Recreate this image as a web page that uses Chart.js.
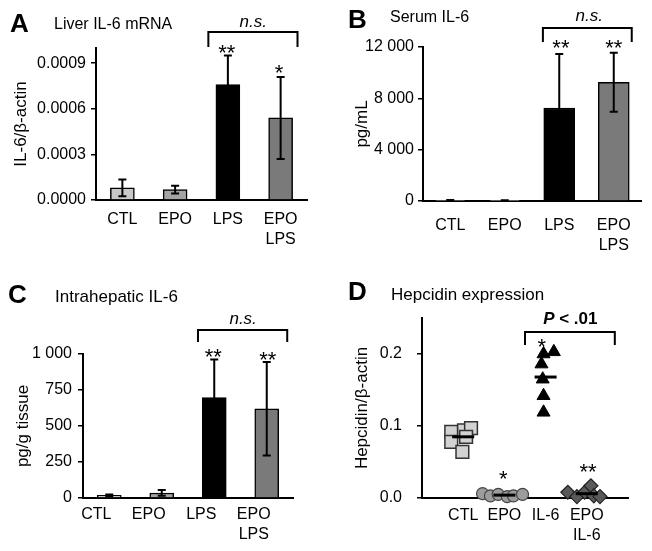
<!DOCTYPE html>
<html>
<head>
<meta charset="utf-8">
<script src="https://cdn.jsdelivr.net/npm/chart.js@4.4.0/dist/chart.umd.min.js"></script>
<style>
  body { margin: 0; background: #fff; }
  canvas { position: absolute; }
</style>
</head>
<body>
<canvas id="chartA" width="326" height="275" style="left:0;top:0"></canvas>
<canvas id="chartB" width="326" height="275" style="left:326px;top:0"></canvas>
<canvas id="chartC" width="326" height="276" style="left:0;top:275px"></canvas>
<canvas id="chartD" width="326" height="276" style="left:326px;top:275px"></canvas>
<script>
const FONT = "'Liberation Sans', Arial, sans-serif";
Chart.defaults.font.family = FONT;
Chart.defaults.color = '#000';

// bar panels A, B, C
const barLabels = ['CTL', 'EPO', 'LPS', ['EPO', 'LPS']];
const barColors = ['#c8c8c8', '#a4a4a4', '#000000', '#7a7a7a'];

const mrnaMeans = [0.00008, 0.000068, 0.00076, 0.00054];
const mrnaErrors = [0.000055, 0.000026, 0.00019, 0.00027];
const mrnaTicks = [0, 0.0003, 0.0006, 0.0009];

const serumMeans = [40, 30, 7250, 9250];
const serumErrors = [40, 30, 4200, 2300];
const serumTicks = [0, 4000, 8000, 12000];

const hepaticMeans = [18, 35, 697, 620];
const hepaticErrors = [6, 20, 265, 325];
const hepaticTicks = [0, 250, 500, 750, 1000];

// scatter panel D (x offset from group centre, value)
const hepcLabels = ['CTL', 'EPO', 'IL-6', ['EPO', 'IL-6']];
const ctlOffsets = [-0.29, 0.02, 0.19, -0.29, 0.07, -0.02];
const ctlValues = [0.092, 0.094, 0.097, 0.078, 0.085, 0.064];
const epoOffsets = [-0.53, -0.34, -0.15, 0.07, 0.22, 0.44];
const epoValues = [0.006, 0.003, 0.005, 0.002, 0.003, 0.005];
const il6Offsets = [-0.05, 0.2, -0.1, -0.07, -0.05, -0.05];
const il6Values = [0.2, 0.203, 0.186, 0.165, 0.142, 0.119];
const epoIl6Offsets = [-0.46, -0.24, -0.05, 0.1, 0.17, 0.32];
const epoIl6Values = [0.008, 0.002, 0.008, 0.017, 0.003, 0.002];
const hepcMeans = [0.085, 0.004, 0.168, 0.006];
const hepcTicks = [0, 0.1, 0.2];

const withSpaces = (v) => String(v).replace(/\B(?=(\d{3})+(?!\d))/g, ' ');

// error bars, panel letters, titles, stars and brackets
const panelDecor = {
  id: 'panelDecor',
  afterDatasetsDraw(chart, args, opts) {
    if (!opts.errors) return;
    const ctx = chart.ctx;
    const ys = chart.scales.y;
    const values = chart.data.datasets[0].data;
    ctx.save();
    ctx.strokeStyle = '#000';
    ctx.lineWidth = 2;
    chart.getDatasetMeta(0).data.forEach((bar, i) => {
      const yTop = ys.getPixelForValue(values[i] + opts.errors[i]);
      const yBot = ys.getPixelForValue(Math.max(values[i] - opts.errors[i], 0));
      ctx.beginPath();
      ctx.moveTo(bar.x, yTop); ctx.lineTo(bar.x, yBot);
      ctx.moveTo(bar.x - 4, yTop); ctx.lineTo(bar.x + 4, yTop);
      ctx.moveTo(bar.x - 4, yBot); ctx.lineTo(bar.x + 4, yBot);
      ctx.stroke();
    });
    ctx.restore();
  },
  afterDraw(chart, args, opts) {
    const ctx = chart.ctx;
    const xs = chart.scales.x, ys = chart.scales.y;
    ctx.save();
    ctx.fillStyle = '#000';
    ctx.strokeStyle = '#000';
    ctx.textBaseline = 'alphabetic';

    ctx.textAlign = 'left';
    ctx.font = `bold 26px ${FONT}`;
    ctx.fillText(opts.letter, opts.letterPos[0], opts.letterPos[1]);
    ctx.font = `${opts.titleSize}px ${FONT}`;
    ctx.fillText(opts.title, opts.titlePos[0], opts.titlePos[1]);

    // significance stars (centre given in data units)
    ctx.textAlign = 'center';
    ctx.font = `22px ${FONT}`;
    (opts.stars || []).forEach((s) => {
      ctx.fillText(s.text, xs.getPixelForValue(s.x), ys.getPixelForValue(s.y) + 12);
    });

    const b = opts.bracket;
    if (b) {
      const x1 = xs.getPixelForValue(b.x1), x2 = xs.getPixelForValue(b.x2);
      const yTop = ys.getPixelForValue(b.yTop), yEnd = ys.getPixelForValue(b.yEnd);
      ctx.lineWidth = 2;
      ctx.beginPath();
      ctx.moveTo(x1, yEnd); ctx.lineTo(x1, yTop); ctx.lineTo(x2, yTop); ctx.lineTo(x2, yEnd);
      ctx.stroke();
      // label made of parts with their own fonts
      let total = 0;
      b.parts.forEach((p) => { ctx.font = p.font; total += ctx.measureText(p.text).width; });
      let x = xs.getPixelForValue(b.labelX) - total / 2;
      const y = ys.getPixelForValue(b.labelY) + 6;
      ctx.textAlign = 'left';
      b.parts.forEach((p) => {
        ctx.font = p.font;
        ctx.fillText(p.text, x, y);
        x += ctx.measureText(p.text).width;
      });
    }
    ctx.restore();
  }
};

const yGrid = { display: true, drawOnChartArea: false, drawTicks: true, tickLength: 5, color: '#000', lineWidth: 1.5 };
const axisBorder = { color: '#000', width: 2 };

function barChart(id, means, errors, ticks, cfg) {
  return new Chart(document.getElementById(id), {
    type: 'bar',
    data: {
      labels: barLabels,
      datasets: [{
        data: means,
        backgroundColor: barColors,
        borderColor: '#000',
        borderWidth: 1.5,
        borderSkipped: 'bottom',
        barThickness: cfg.barWidth,
      }],
    },
    options: {
      responsive: false,
      animation: false,
      events: [],
      layout: { padding: { top: cfg.top, right: cfg.right, left: 0, bottom: 0 } },
      plugins: {
        legend: { display: false },
        tooltip: { enabled: false },
        panelDecor: Object.assign({ errors: errors }, cfg.decor),
      },
      scales: {
        x: {
          grid: { display: false, drawTicks: false },
          border: axisBorder,
          ticks: { font: { size: 16, lineHeight: 1.25 }, padding: cfg.xPad, labelOffset: cfg.labelOffset || 0, maxRotation: 0, autoSkip: false },
          afterFit: (s) => { s.height = cfg.xHeight; },
        },
        y: {
          min: 0,
          max: cfg.max,
          afterBuildTicks: (s) => { s.ticks = ticks.map((v) => ({ value: v })); },
          ticks: { font: { size: 16 }, padding: cfg.yPad, callback: cfg.fmt },
          grid: yGrid,
          border: axisBorder,
          title: { display: true, text: cfg.yTitle, font: { size: 17 }, padding: { top: cfg.titlePad, bottom: 0 } },
          afterFit: (s) => { s.width = cfg.yWidth; },
        },
      },
    },
    plugins: [panelDecor],
  });
}

const nsLabel = [{ text: 'n.s.', font: `italic 17px ${FONT}` }];

barChart('chartA', mrnaMeans, mrnaErrors, mrnaTicks, {
  top: 48, right: 19, xHeight: 75, yWidth: 96, max: 0.001, barWidth: 24,
  xPad: 10, yPad: 5, titlePad: 11, yTitle: 'IL-6/β-actin',
  fmt: (v) => v.toFixed(4),
  decor: {
    letter: 'A', letterPos: [10, 32], title: 'Liver IL-6 mRNA', titlePos: [54, 29], titleSize: 16,
    stars: [{ text: '**', x: 1.98, y: 0.001 }, { text: '*', x: 2.97, y: 0.000868 }],
    bracket: { x1: 1.63, x2: 3.32, yTop: 0.001105, yEnd: 0.001007, labelX: 2.48, labelY: 0.001178, parts: nsLabel },
  },
});

barChart('chartB', serumMeans, serumErrors, serumTicks, {
  top: 47, right: 11, xHeight: 74, yWidth: 97, max: 12000, barWidth: 31,
  xPad: 15, yPad: 4, titlePad: 26, yTitle: 'pg/mL',
  fmt: withSpaces,
  decor: {
    letter: 'B', letterPos: [22, 28], title: 'Serum IL-6', titlePos: [64, 22], titleSize: 16,
    stars: [{ text: '**', x: 2.03, y: 12310 }, { text: '**', x: 3.0, y: 12310 }],
    bracket: { x1: 1.7, x2: 3.33, yTop: 13480, yEnd: 12390, labelX: 2.55, labelY: 14490, parts: nsLabel },
  },
});

barChart('chartC', hepaticMeans, hepaticErrors, hepaticTicks, {
  top: 79, right: 33, xHeight: 53, yWidth: 83, max: 1000, barWidth: 24,
  xPad: 7, yPad: 6, titlePad: 13, yTitle: 'pg/g tissue', labelOffset: -13,
  fmt: withSpaces,
  decor: {
    letter: 'C', letterPos: [8, 28], title: 'Intrahepatic IL-6', titlePos: [55, 27], titleSize: 17,
    stars: [{ text: '**', x: 1.98, y: 1014 }, { text: '**', x: 3.02, y: 993 }],
    bracket: { x1: 1.69, x2: 3.39, yTop: 1167, yEnd: 1083, labelX: 2.55, labelY: 1250, parts: nsLabel },
  },
});

function groupPoints(group, offsets, values) {
  return values.map((v, i) => ({ x: group + offsets[i], y: v }));
}

new Chart(document.getElementById('chartD'), {
  type: 'scatter',
  data: {
    datasets: [
      { data: hepcMeans.map((v, i) => ({ x: i + 1, y: v })), pointStyle: 'line', pointRadius: 11, borderColor: '#000', pointBorderWidth: 3, order: 0, clip: false },
      { data: groupPoints(1, ctlOffsets, ctlValues), pointStyle: 'rect', pointRadius: 9, backgroundColor: '#d2d2d2', borderColor: '#333', pointBorderWidth: 1.5, order: 1, clip: false },
      { data: groupPoints(2, epoOffsets, epoValues), pointStyle: 'circle', pointRadius: 6, backgroundColor: '#9c9c9c', borderColor: '#444', pointBorderWidth: 1.2, order: 1, clip: false },
      { data: groupPoints(3, il6Offsets, il6Values), pointStyle: 'triangle', pointRadius: 7.5, backgroundColor: '#000', borderColor: '#000', pointBorderWidth: 1, order: 1, clip: false },
      { data: groupPoints(4, epoIl6Offsets, epoIl6Values), pointStyle: 'rectRot', pointRadius: 7, backgroundColor: '#5a5a5a', borderColor: '#222', pointBorderWidth: 1.2, order: 1, clip: false },
    ],
  },
  options: {
    responsive: false,
    animation: false,
    events: [],
    layout: { padding: { top: 43, right: 24, left: 0, bottom: 0 } },
    plugins: {
      legend: { display: false },
      tooltip: { enabled: false },
      panelDecor: {
        letter: 'D', letterPos: [22, 25], title: 'Hepcidin expression', titlePos: [65, 25], titleSize: 17,
        stars: [{ text: '*', x: 1.97, y: 0.033 }, { text: '*', x: 2.91, y: 0.2167 }, { text: '**', x: 4.03, y: 0.043 }],
        bracket: {
          x1: 2.5, x2: 4.68, yTop: 0.2306, yEnd: 0.2125, labelX: 3.6, labelY: 0.25,
          parts: [{ text: 'P', font: `italic bold 17px ${FONT}` }, { text: ' < .01', font: `bold 17px ${FONT}` }],
        },
      },
    },
    scales: {
      x: {
        type: 'linear',
        min: 0,
        max: 5,
        afterBuildTicks: (s) => { s.ticks = hepcLabels.map((l, i) => ({ value: i + 1 })); },
        ticks: { font: { size: 16, lineHeight: 1.25 }, padding: 8, maxRotation: 0, autoSkip: false, callback: (v, i) => hepcLabels[i] },
        grid: { display: false, drawTicks: false },
        border: axisBorder,
        afterFit: (s) => { s.height = 53; },
      },
      y: {
        min: 0,
        max: 0.25,
        afterBuildTicks: (s) => { s.ticks = hepcTicks.map((v) => ({ value: v })); },
        ticks: { font: { size: 16 }, padding: 15, callback: (v) => v.toFixed(1) },
        grid: yGrid,
        border: axisBorder,
        title: { display: true, text: 'Hepcidin/β-actin', font: { size: 17 }, padding: { top: 26, bottom: 0 } },
        afterFit: (s) => { s.width = 96; },
      },
    },
  },
  plugins: [panelDecor],
});
</script>
</body>
</html>
